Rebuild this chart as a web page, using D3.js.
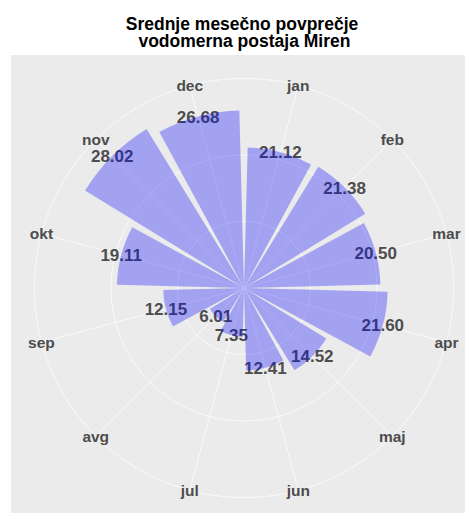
<!DOCTYPE html>
<html lang="en">
<head>
<meta charset="utf-8">
<title>Miren</title>
<script src="https://d3js.org/d3.v7.min.js"></script>
<style>
  body { margin: 0; background: #fff; }
  svg { display: block; font-family: "Liberation Sans", Arial, sans-serif; }
  .title { font-weight: bold; font-size: 17.5px; fill: #000; }
  .month { font-weight: bold; font-size: 15.5px; fill: #4d4d4d; text-anchor: middle; }
  .val { font-weight: bold; font-size: 17px; fill: #4d4d4d; text-anchor: middle; }
</style>
</head>
<body>
<div id="chart"></div>
<script>
// data
var months = ["jan","feb","mar","apr","maj","jun","jul","avg","sep","okt","nov","dec"];
var values = [21.12, 21.38, 20.50, 21.60, 14.52, 12.41, 7.35, 6.01, 12.15, 19.11, 28.02, 26.68];
var titleLines = ["Srednje mesečno povprečje", " vodomerna postaja Miren"];

var w = 465, h = 513;
// square polar panel (partly cut off at right/bottom like the original)
var size = 466;
var px = 11, py = 55;
var cx = px + size / 2, cy = py + size / 2;

var svg = d3.select("#chart").append("svg")
  .attr("width", w)
  .attr("height", h);

// title
var title = svg.append("text")
  .attr("class", "title")
  .attr("text-anchor", "middle")
  .style("white-space", "pre");
titleLines.forEach(function(t, i) {
  title.append("tspan")
    .attr("x", 242)
    .attr("y", 30 + i * 17)
    .text(t);
});

svg.append("rect")
  .attr("x", px).attr("y", py)
  .attr("width", size).attr("height", size)
  .attr("fill", "#ebebeb");

var theta = d3.scaleBand()
  .domain(months)
  .range([0, 2 * Math.PI])
  .paddingInner(0.1)
  .paddingOuter(0.05);

var r = d3.scaleLinear()
  .domain([0, d3.max(values)])
  .range([0, 0.4 * size]);

var outerR = 0.45 * size;

var g = svg.append("g").attr("transform", "translate(" + cx + "," + cy + ")");

function mid(m) { return theta(m) + theta.bandwidth() / 2; }

// grid circles
var rings = r.ticks(3).filter(function(d) { return d > 0; }).map(r).concat([outerR]);
g.selectAll("circle.grid")
  .data(rings)
  .enter().append("circle")
  .attr("r", function(d) { return d; })
  .attr("fill", "none")
  .attr("stroke", "#fff")
  .attr("stroke-opacity", 0.75)
  .attr("stroke-width", 0.9);

// spokes
g.selectAll("line.spoke")
  .data(months)
  .enter().append("line")
  .attr("x1", 0).attr("y1", 0)
  .attr("x2", function(d) { return outerR * Math.sin(mid(d)); })
  .attr("y2", function(d) { return -outerR * Math.cos(mid(d)); })
  .attr("stroke", "#fff")
  .attr("stroke-opacity", 0.75)
  .attr("stroke-width", 0.9);

// value labels (under the translucent bars)
g.selectAll("text.val")
  .data(values)
  .enter().append("text")
  .attr("class", "val")
  .attr("x", function(d, i) { return r(d) * Math.sin(mid(months[i])); })
  .attr("y", function(d, i) { return -r(d) * Math.cos(mid(months[i])); })
  .attr("dy", "0.36em")
  .text(function(d) { return d3.format(".2f")(d); });

// bars
var arc = d3.arc()
  .innerRadius(0)
  .outerRadius(function(d) { return r(d.v); })
  .startAngle(function(d) { return theta(d.m); })
  .endAngle(function(d) { return theta(d.m) + theta.bandwidth(); });

g.selectAll("path.bar")
  .data(months.map(function(m, i) { return { m: m, v: values[i] }; }))
  .enter().append("path")
  .attr("d", arc)
  .attr("fill", "blue")
  .attr("fill-opacity", 0.31);

// month labels on the outer ring
g.selectAll("text.month")
  .data(months)
  .enter().append("text")
  .attr("class", "month")
  .attr("x", function(d) { return outerR * Math.sin(mid(d)); })
  .attr("y", function(d) { return -outerR * Math.cos(mid(d)); })
  .attr("dy", "0.35em")
  .text(function(d) { return d; });
</script>
</body>
</html>
